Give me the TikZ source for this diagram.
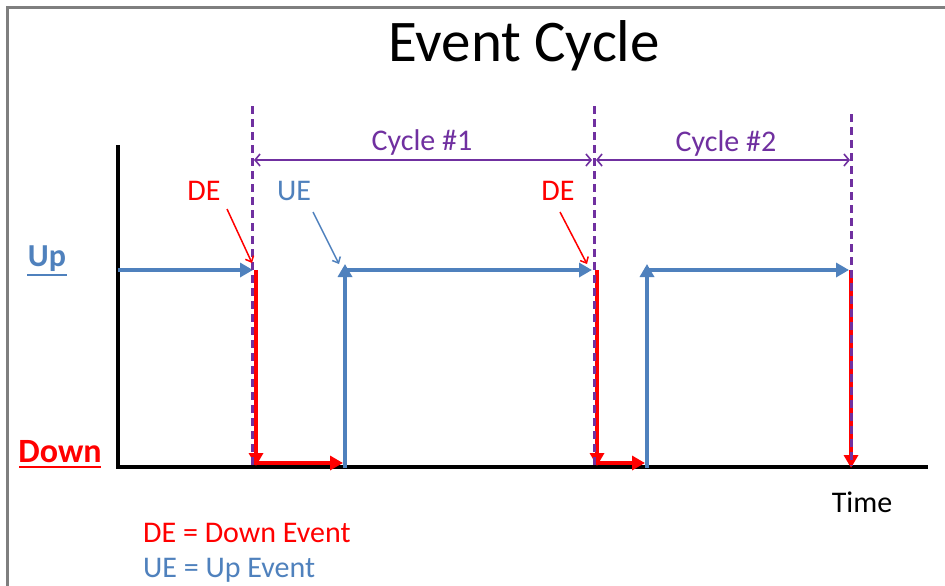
\documentclass[tikz,border=0pt]{standalone}
\usepackage{fontspec}
\setmainfont{Carlito}
\usetikzlibrary{arrows.meta}
\definecolor{upblue}{HTML}{4F81BD}
\definecolor{dnred}{HTML}{FF0000}
\definecolor{cycpurple}{HTML}{7030A0}
\definecolor{framegray}{HTML}{7F7F7F}
\begin{document}
\begin{tikzpicture}[x=1pt,y=-1pt,
  lbl/.style={font=\fontsize{30}{32}\selectfont, inner sep=0pt, anchor=base},
  lvl/.style={font=\fontsize{#1}{#1}\selectfont\bfseries, inner sep=0pt, anchor=base},
  sig/.style={line width=4.5pt, -{Triangle[length=13pt,width=14pt]}},
  bluesig/.style={sig, upblue},
  redsig/.style={sig, dnred},
  cycline/.style={cycpurple, line width=3pt, dash pattern=on 8pt off 5pt},
  dimline/.style={cycpurple, line width=1.6pt, {Straight Barb[length=5pt,width=12pt]}-{Straight Barb[length=5pt,width=12pt]}},
  callout/.style={line width=1.5pt, -{Straight Barb[length=5pt,width=9pt]}},
  axis/.style={black, line width=3.5pt}
]
\useasboundingbox (0,0) rectangle (945,586);
\fill[white] (0,0) rectangle (945,586);
% frame
\draw[framegray, line width=3pt] (7,586) -- (7,8) -- (945,8);

% title
\node[inner sep=0pt, anchor=base, font=\fontsize{59}{61}\selectfont] (title) at (524,62) {Event Cycle};

% coordinates
\coordinate (ytop) at (118,145);
\coordinate (orig) at (118,467);
\coordinate (xend) at (928,467);
\coordinate (b0) at (118,270);
\coordinate (b0e) at (253,270);
\coordinate (r1t) at (256,270);
\coordinate (r1b) at (256,466);
\coordinate (r1h) at (254,463);
\coordinate (r1he) at (343,463);
\coordinate (u1b) at (345,468);
\coordinate (u1t) at (345,264);
\coordinate (u1h) at (343,270);
\coordinate (u1he) at (592,270);
\coordinate (r2t) at (597,270);
\coordinate (r2b) at (597,466);
\coordinate (r2h) at (595,463);
\coordinate (r2he) at (645,463);
\coordinate (u2b) at (647,468);
\coordinate (u2t) at (647,264);
\coordinate (u2h) at (645,270);
\coordinate (u2he) at (849,270);
\coordinate (r3t) at (851,270);
\coordinate (r3b) at (851,468);

\coordinate (d1t) at (252.5,106);
\coordinate (d1b) at (252.5,466);
\coordinate (d2t) at (594,106);
\coordinate (d2b) at (594,466);
\coordinate (d3t) at (851,114);
\coordinate (d3b) at (851,466);

\coordinate (c1l) at (254,160);
\coordinate (c1r) at (592,160);
\coordinate (c2l) at (596,160);
\coordinate (c2r) at (850,160);

% axes
\draw[axis] (ytop) -- (orig) -- (xend);

% signal
\draw[bluesig] (b0) -- (b0e);
\draw[redsig] (r1t) -- (r1b);
\draw[redsig] (r1h) -- (r1he);
\draw[bluesig] (u1b) -- (u1t);
\draw[bluesig] (u1h) -- (u1he);
\draw[redsig] (r2t) -- (r2b);
\draw[redsig] (r2h) -- (r2he);
\draw[bluesig] (u2b) -- (u2t);
\draw[bluesig] (u2h) -- (u2he);
\draw[redsig] (r3t) -- (r3b);

% cycle boundaries
\draw[cycline] (d1t) -- (d1b);
\draw[cycline] (d2t) -- (d2b);
\draw[cycline] (d3t) -- (d3b);

% dimension lines
\draw[dimline] (c1l) -- (c1r);
\draw[dimline] (c2l) -- (c2r);
\node[lbl, text=cycpurple] (cyc1) at (422,150) {Cycle \#1};
\node[lbl, text=cycpurple] (cyc2) at (726,151) {Cycle \#2};

% callouts
\node[lbl, text=dnred] (de1) at (204,200) {DE};
\node[lbl, text=upblue] (ue1) at (294,200) {UE};
\node[lbl, text=dnred] (de2) at (558,200) {DE};
\coordinate (de1s) at (227,209);
\coordinate (de1e) at (252,263);
\coordinate (ue1s) at (313,212);
\coordinate (ue1e) at (339,264);
\coordinate (de2s) at (560,212);
\coordinate (de2e) at (587,264);
\draw[callout, dnred] (de1s) -- (de1e);
\draw[callout, upblue] (ue1s) -- (ue1e);
\draw[callout, dnred] (de2s) -- (de2e);

% level labels
\node[lvl=32, text=upblue] (up) at (47,266) {Up};
\draw[upblue, line width=2pt] (27,274.5) -- (67,274.5);
\node[lvl=34, text=dnred] (down) at (60,462) {Down};
\draw[dnred, line width=2pt] (19,466.5) -- (101,466.5);

% time
\node[lbl] (time) at (862,512) {Time};

% legend
\node[lbl, anchor=base west, text=dnred] (leg1) at (143,542) {DE = Down Event};
\node[lbl, anchor=base west, text=upblue] (leg2) at (143,577) {UE = Up Event};
\end{tikzpicture}
\end{document}
